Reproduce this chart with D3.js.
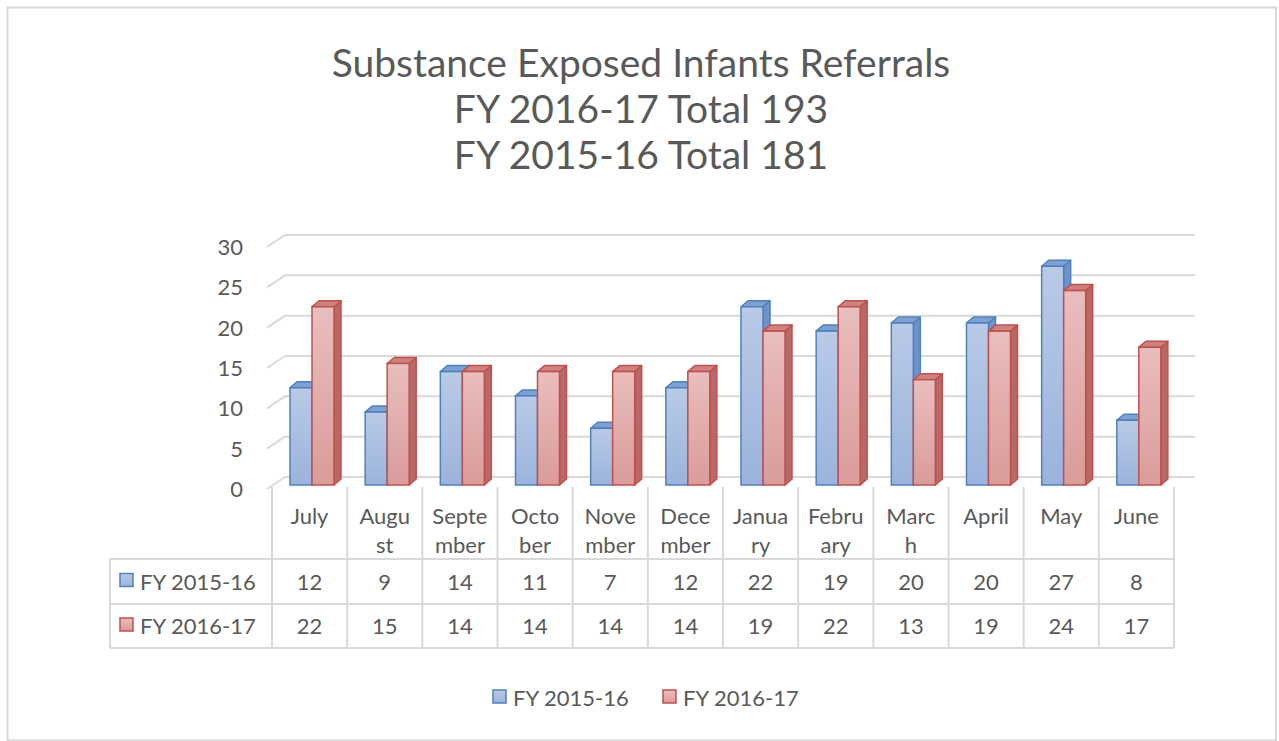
<!DOCTYPE html>
<html><head><meta charset="utf-8">
<script src="https://cdn.jsdelivr.net/npm/d3@7"></script>
<style>
html,body{margin:0;padding:0;background:#fff;}
svg{display:block;font-family:Lato,"Noto Sans",sans-serif;}
</style></head>
<body><svg id="chart" width="1279" height="741"></svg>
<script>
const titleLines = ["Substance Exposed Infants Referrals","FY 2016-17 Total 193","FY 2015-16 Total 181"];
const months = ["July","August","September","October","November","December","January","February","March","April","May","June"];
const monthLabelLines = [["July"],["Augu","st"],["Septe","mber"],["Octo","ber"],["Nove","mber"],["Dece","mber"],["Janua","ry"],["Febru","ary"],["Marc","h"],["April"],["May"],["June"]];
const seriesNames = ["FY 2015-16","FY 2016-17"];
const fy1516 = [12,9,14,11,7,12,22,19,20,20,27,8];
const fy1617 = [22,15,14,14,14,14,19,22,13,19,24,17];
const yTicks = [0,5,10,15,20,25,30];

const svg = d3.select("#chart");
const textCol = "#595959", gridCol = "#d9d9d9";
const colors = [
  {top:"#b9cae6", bot:"#9bb3dc", stroke:"#4f81bd", side:"#6f93c8", cap:"#7fa0d2"},
  {top:"#e9bebd", bot:"#d99c9a", stroke:"#c0504d", side:"#b86866", cap:"#cd8280"}
];
const fs = 22;

const defs = svg.append("defs");
colors.forEach((c,i)=>{
  const g = defs.append("linearGradient").attr("id","g"+i).attr("x1",0).attr("y1",0).attr("x2",0).attr("y2",1);
  g.append("stop").attr("offset","0%").attr("stop-color",c.top);
  g.append("stop").attr("offset","100%").attr("stop-color",c.bot);
});

svg.append("rect").attr("x",7.5).attr("y",7.5).attr("width",1268.5).attr("height",733)
  .attr("fill","#fff").attr("stroke",gridCol).attr("stroke-width",2);

svg.append("g").selectAll("text").data(titleLines).join("text")
  .attr("x",641).attr("y",(d,i)=>77+i*46)
  .attr("text-anchor","middle").attr("fill",textCol)
  .attr("font-size",39).text(d=>d);

const x = d3.scaleBand().domain(months).range([272,1174]).paddingInner(0).paddingOuter(0);
const xs = d3.scaleBand().domain(seriesNames).range([18,62]).padding(0);
const yF = d3.scaleLinear().domain([0,30]).range([489,247]);
const dxW = 18, dyW = -12;
const yBar = d3.scaleLinear().domain([0,30]).range([485,242]);
const bdx = 7, bdy = -6;

const grid = svg.append("g").attr("stroke",gridCol).attr("stroke-width",2).attr("fill","none");
yTicks.forEach(v=>{
  grid.append("line").attr("x1",267).attr("y1",yF(v)).attr("x2",267+dxW).attr("y2",yF(v)+dyW);
  grid.append("line").attr("x1",267+dxW).attr("y1",yF(v)+dyW).attr("x2",1195).attr("y2",yF(v)+dyW);
});

svg.append("g").selectAll("text").data(yTicks).join("text")
  .attr("x",243).attr("y",d=>yF(d)+8).attr("text-anchor","end")
  .attr("fill",textCol).attr("font-size",fs).text(d=>d);

const seriesData = [fy1516, fy1617];
const barsG = svg.append("g");
seriesData.forEach((vals,si)=>{
  const c = colors[si];
  const g = barsG.append("g");
  const bw = xs.bandwidth();
  vals.forEach((v,mi)=>{
    const x0 = x(months[mi]) + xs(seriesNames[si]);
    const y0 = yBar(v), base = yBar(0);
    g.append("polygon")
      .attr("points",[[x0+bw,y0],[x0+bw+bdx,y0+bdy],[x0+bw+bdx,base+bdy],[x0+bw,base]].join(" "))
      .attr("fill",c.side).attr("stroke",c.stroke).attr("stroke-width",1.5).attr("stroke-linejoin","round");
    g.append("polygon")
      .attr("points",[[x0,y0],[x0+bdx,y0+bdy],[x0+bw+bdx,y0+bdy],[x0+bw,y0]].join(" "))
      .attr("fill",c.cap).attr("stroke",c.stroke).attr("stroke-width",1.5).attr("stroke-linejoin","round");
    g.append("rect").attr("x",x0).attr("y",y0).attr("width",bw).attr("height",base-y0)
      .attr("fill","url(#g"+si+")").attr("stroke",c.stroke).attr("stroke-width",1.5);
  });
});

const tG = svg.append("g");
const tl = tG.append("g").attr("stroke",gridCol).attr("stroke-width",2);
const hTop = 487, r1 = 559, r2 = 604, r3 = 648, tLeft = 110, tRight = 1174;
months.forEach(m=>{
  tl.append("line").attr("x1",x(m)).attr("y1",hTop).attr("x2",x(m)).attr("y2",r3);
});
tl.append("line").attr("x1",tRight).attr("y1",hTop).attr("x2",tRight).attr("y2",r3);
tl.append("line").attr("x1",tLeft).attr("y1",r1).attr("x2",tLeft).attr("y2",r3);
[r1,r2,r3].forEach(yy=>tl.append("line").attr("x1",tLeft).attr("y1",yy).attr("x2",tRight).attr("y2",yy));

months.forEach((m,i)=>{
  const t = tG.append("text").attr("text-anchor","middle").attr("fill",textCol).attr("font-size",fs);
  monthLabelLines[i].forEach((ln,j)=>{
    t.append("tspan").attr("x",x(m)+x.bandwidth()/2).attr("y",524+j*29).text(ln);
  });
});
const rowY = [r1, r2];
seriesData.forEach((vals,si)=>{
  const cy = (rowY[si] + (si===0?r2:r3))/2;
  tG.append("rect").attr("x",120).attr("y",cy-8).attr("width",13).attr("height",13)
    .attr("fill","url(#g"+si+")").attr("stroke",colors[si].stroke).attr("stroke-width",1.5);
  tG.append("text").attr("x",140).attr("y",cy+8).attr("fill",textCol).attr("font-size",fs).text(seriesNames[si]);
  vals.forEach((v,mi)=>{
    tG.append("text").attr("x",x(months[mi])+x.bandwidth()/2).attr("y",cy+8)
      .attr("text-anchor","middle").attr("fill",textCol).attr("font-size",fs).text(v);
  });
});

const legX = [493, 663];
const lg = svg.append("g");
seriesNames.forEach((s,i)=>{
  lg.append("rect").attr("x",legX[i]).attr("y",690).attr("width",13).attr("height",13)
    .attr("fill","url(#g"+i+")").attr("stroke",colors[i].stroke).attr("stroke-width",1.5);
  lg.append("text").attr("x",legX[i]+20).attr("y",706).attr("fill",textCol).attr("font-size",fs).text(s);
});
</script>
</body></html>
